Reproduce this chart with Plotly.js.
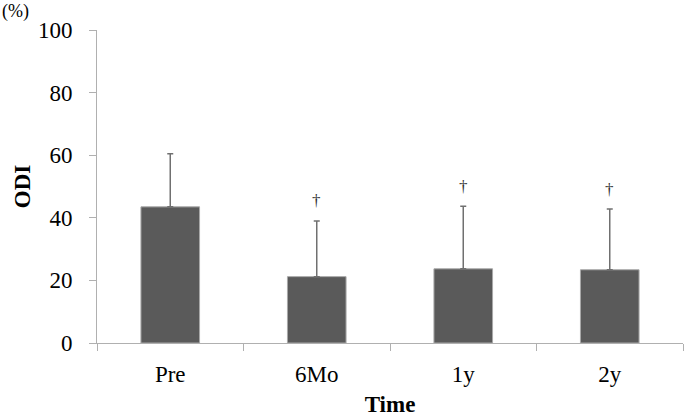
<!DOCTYPE html>
<html>
<head>
<meta charset="utf-8">
<script src="https://cdn.plot.ly/plotly-3.0.1.min.js"></script>
<style>
  html, body { margin: 0; padding: 0; background: #fff; }
  #chart { width: 685px; height: 417px; }
</style>
</head>
<body>
<div id="chart"></div>
<script>
// ODI over time, mean and SD
const times = ['Pre', '6Mo', '1y', '2y'];
const odiMean = [43.5, 21.2, 23.7, 23.4];
const odiSD = [17.0, 17.8, 20.0, 19.4];
const marks = ['', '†', '†', '†'];

const serif = '"Liberation Serif", "Times New Roman", serif';

const barTrace = {
    x: times,
    y: odiMean,
    type: 'bar',
    width: 0.4,
    marker: {color: '#5a5a5a', line: {color: '#a8a8a8', width: 1}},
    error_y: {type: 'data', array: odiSD, symmetric: false, arrayminus: [0, 0, 0, 0],
              color: '#707070', thickness: 1.5, width: 3},
    hoverinfo: 'none'
};

// daggers above the error bar caps
const daggers = times.map((t, i) => ({
    x: t, y: odiMean[i] + odiSD[i], text: marks[i],
    xref: 'x', yref: 'y', showarrow: false, yshift: 20,
    font: {family: serif, size: 17, color: '#333'}
})).filter(a => a.text !== '');

const layout = {
    width: 685,
    height: 417,
    margin: {l: 97, r: 2, t: 30, b: 74},
    showlegend: false,
    plot_bgcolor: '#fff',
    paper_bgcolor: '#fff',
    font: {family: serif, color: '#000', size: 23},
    xaxis: {
        type: 'category',
        showline: true, linecolor: '#b0b0b0', linewidth: 1,
        ticks: 'outside', tickson: 'boundaries', ticklen: 7, tickcolor: '#b0b0b0',
        tickfont: {family: serif, size: 23},
        ticklabelstandoff: 10,
        title: {text: '<b>Time</b>', font: {family: serif, size: 23}, standoff: 14},
        showgrid: false, zeroline: false
    },
    yaxis: {
        range: [0, 100],
        dtick: 20,
        showline: true, linecolor: '#b0b0b0', linewidth: 1,
        ticks: 'outside', ticklen: 7, tickcolor: '#b0b0b0',
        tickfont: {family: serif, size: 23},
        ticklabelstandoff: 12,
        title: {text: '<b>ODI</b>', font: {family: serif, size: 23}, standoff: 0},
        showgrid: false, zeroline: false
    },
    annotations: daggers.concat([{
        text: '(%)', xref: 'paper', yref: 'paper', x: -0.165, y: 1.06,
        xanchor: 'left', yanchor: 'middle', showarrow: false,
        font: {family: serif, size: 18, color: '#000'}
    }])
};

Plotly.newPlot('chart', [barTrace], layout, {staticPlot: true});
</script>
</body>
</html>
